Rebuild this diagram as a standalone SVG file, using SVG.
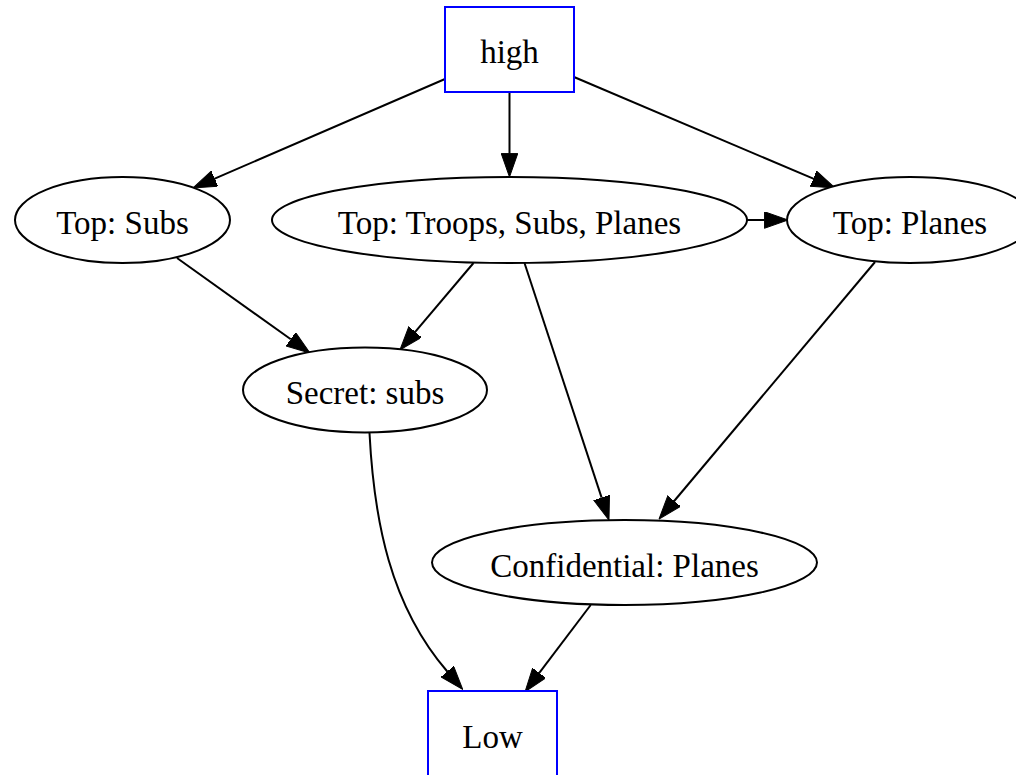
<svg xmlns="http://www.w3.org/2000/svg" width="1016" height="775" viewBox="0 0 1016 775">
<style>
.n{fill:#fff;stroke:#000;stroke-width:2}
.b{fill:#fff;stroke:#0000ff;stroke-width:2}
.t{font-family:"Liberation Serif","Times New Roman",serif;font-size:33px;fill:#000;text-anchor:middle}
.e{fill:none;stroke:#000;stroke-width:2}
</style>
<defs>
<marker id="ah" viewBox="0 0 24 17" refX="0" refY="8.3" markerWidth="24" markerHeight="17" markerUnits="userSpaceOnUse" orient="auto">
<path d="M0,0 L23.6,8.3 L0,16.6 Z" fill="#000" stroke="#000" stroke-width="1"/>
</marker>
</defs>
<rect width="1016" height="775" fill="#fff"/>
<g id="edges">
<path class="e" marker-end="url(#ah)" d="M445,79 L214.7,178.6"/>
<path class="e" marker-end="url(#ah)" d="M509.5,92 L509.5,153.4"/>
<path class="e" marker-end="url(#ah)" d="M574,77 L813.3,178.7"/>
<path class="e" marker-end="url(#ah)" d="M747,220 L764.4,220"/>
<path class="e" marker-end="url(#ah)" d="M177,258 L290.8,339.3"/>
<path class="e" marker-end="url(#ah)" d="M473.5,263 L415.2,331.9"/>
<path class="e" marker-end="url(#ah)" d="M524.5,263 L601.6,497.6"/>
<path class="e" marker-end="url(#ah)" d="M875,262 L674.2,501"/>
<path class="e" marker-end="url(#ah)" d="M369.5,433 C374,520 390,605 447.3,671.5"/>
<path class="e" marker-end="url(#ah)" d="M590.7,605 L539.3,672.9"/>
</g>
<g id="high"><rect class="b" x="445" y="7" width="129" height="85"/><text class="t" x="509.5" y="63">high</text></g>
<g id="top_subs"><ellipse class="n" cx="122.5" cy="220" rx="107.5" ry="43"/><text class="t" x="122.5" y="234">Top: Subs</text></g>
<g id="top_all"><ellipse class="n" cx="509.5" cy="220" rx="237.5" ry="43"/><text class="t" x="509.5" y="234">Top: Troops, Subs, Planes</text></g>
<g id="top_planes"><ellipse class="n" cx="910" cy="220" rx="123" ry="43"/><text class="t" x="910" y="234">Top: Planes</text></g>
<g id="secret_subs"><ellipse class="n" cx="365" cy="390" rx="122" ry="42.5"/><text class="t" x="365" y="404">Secret: subs</text></g>
<g id="conf_planes"><ellipse class="n" cx="624.5" cy="562.5" rx="192.5" ry="42.5"/><text class="t" x="624.5" y="577">Confidential: Planes</text></g>
<g id="low"><rect class="b" x="428" y="691" width="129" height="85"/><text class="t" x="492.5" y="748">Low</text></g>
</svg>
